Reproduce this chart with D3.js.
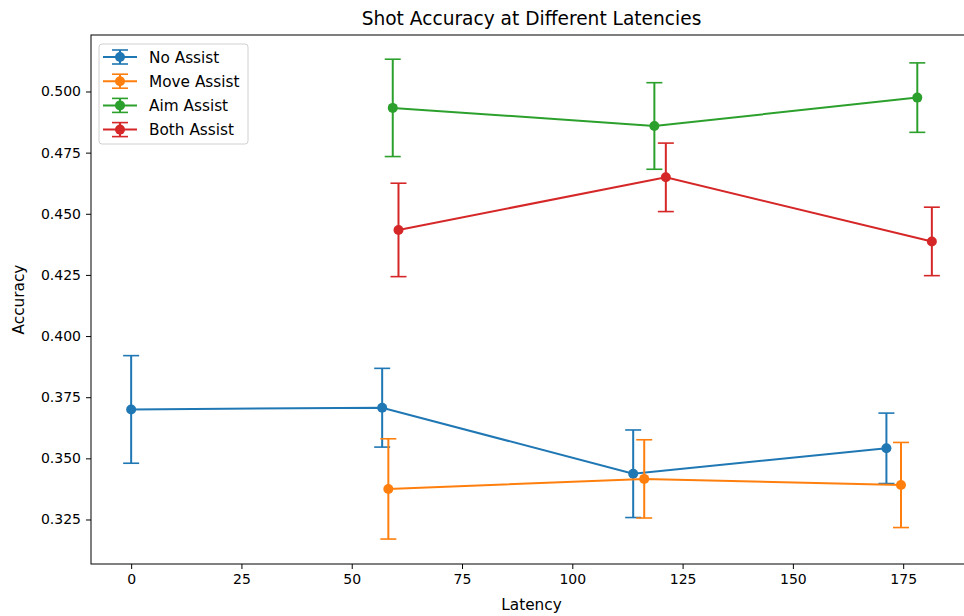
<!DOCTYPE html>
<html>
<head>
<meta charset="utf-8">
<script src="https://cdn.jsdelivr.net/npm/d3@7"></script>
<style>
  body { margin: 0; background: #fff; }
  text { font-family: "DejaVu Sans", sans-serif; }
</style>
</head>
<body>
<div id="chart"></div>
<script>
// Data
var seriesNames = ["No Assist", "Move Assist", "Aim Assist", "Both Assist"];
var seriesColors = ["#1f77b4", "#ff7f0e", "#2ca02c", "#d62728"];

var noAssistLatency = [0, 56.9, 113.8, 171.2];
var noAssistAcc = [0.3700, 0.3707, 0.3437, 0.3541];
var noAssistErr = [0.0220, 0.0161, 0.0179, 0.0144];

var moveAssistLatency = [58.3, 116.3, 174.5];
var moveAssistAcc = [0.3375, 0.3416, 0.3391];
var moveAssistErr = [0.0205, 0.0160, 0.0174];

var aimAssistLatency = [59.3, 118.6, 178.2];
var aimAssistAcc = [0.4933, 0.4859, 0.4975];
var aimAssistErr = [0.0199, 0.0177, 0.0142];

var bothAssistLatency = [60.6, 121.2, 181.5];
var bothAssistAcc = [0.4434, 0.4649, 0.4387];
var bothAssistErr = [0.0191, 0.0140, 0.0140];

var xTicks = [0, 25, 50, 75, 100, 125, 150, 175];
var yTicks = [0.325, 0.350, 0.375, 0.400, 0.425, 0.450, 0.475, 0.500];

// build rows per series
function rows(xs, ys, es) {
    return xs.map(function(x, i) { return {x: x, y: ys[i], e: es[i]}; });
}
var allSeries = [
    rows(noAssistLatency, noAssistAcc, noAssistErr),
    rows(moveAssistLatency, moveAssistAcc, moveAssistErr),
    rows(aimAssistLatency, aimAssistAcc, aimAssistErr),
    rows(bothAssistLatency, bothAssistAcc, bothAssistErr)
];

var svgWidth = 964,
    svgHeight = 616,
    plotLeft = 91,
    plotRight = 972,   // right spine falls just outside the picture
    plotTop = 35,
    plotBottom = 564,
    capHalf = 8,
    markerR = 5,
    labelSize = 15.3;

var svg = d3.select("#chart").append("svg")
    .attr("width", svgWidth)
    .attr("height", svgHeight);

var xScale = d3.scaleLinear().domain([-9.1, 190.6]).range([plotLeft, plotRight]);
var yScale = d3.scaleLinear().domain([0.3068, 0.5231]).range([plotBottom, plotTop]);

// axes
var xAxis = svg.append("g")
    .attr("transform", `translate(0, ${plotBottom})`)
    .call(d3.axisBottom(xScale).tickValues(xTicks).tickSize(5).tickPadding(5).tickFormat(d3.format("d")));
var yAxis = svg.append("g")
    .attr("transform", `translate(${plotLeft}, 0)`)
    .call(d3.axisLeft(yScale).tickValues(yTicks).tickSize(5).tickPadding(5).tickFormat(d3.format(".3f")));

[xAxis, yAxis].forEach(function(ax) {
    ax.select(".domain").remove();
    ax.selectAll("line").attr("stroke", "#000").attr("stroke-width", 1);
    ax.selectAll("text").attr("font-size", 14).attr("fill", "#000")
        .attr("font-family", "DejaVu Sans, sans-serif");
});

// frame
svg.append("rect")
    .attr("x", plotLeft).attr("y", plotTop)
    .attr("width", plotRight - plotLeft).attr("height", plotBottom - plotTop)
    .attr("fill", "none").attr("stroke", "#000").attr("stroke-width", 1);

// series: line, error bars, markers
var line = d3.line().x(function(d) { return xScale(d.x); }).y(function(d) { return yScale(d.y); });

allSeries.forEach(function(data, i) {
    var col = seriesColors[i];
    var g = svg.append("g");

    g.append("path")
        .datum(data)
        .attr("d", line)
        .attr("fill", "none")
        .attr("stroke", col)
        .attr("stroke-width", 2);

    var bars = g.selectAll(".bar").data(data).enter().append("g");
    bars.append("line")
        .attr("x1", function(d) { return xScale(d.x); })
        .attr("x2", function(d) { return xScale(d.x); })
        .attr("y1", function(d) { return yScale(d.y - d.e); })
        .attr("y2", function(d) { return yScale(d.y + d.e); })
        .attr("stroke", col).attr("stroke-width", 2);
    bars.append("line")
        .attr("x1", function(d) { return xScale(d.x) - capHalf; })
        .attr("x2", function(d) { return xScale(d.x) + capHalf; })
        .attr("y1", function(d) { return yScale(d.y + d.e); })
        .attr("y2", function(d) { return yScale(d.y + d.e); })
        .attr("stroke", col).attr("stroke-width", 1.6);
    bars.append("line")
        .attr("x1", function(d) { return xScale(d.x) - capHalf; })
        .attr("x2", function(d) { return xScale(d.x) + capHalf; })
        .attr("y1", function(d) { return yScale(d.y - d.e); })
        .attr("y2", function(d) { return yScale(d.y - d.e); })
        .attr("stroke", col).attr("stroke-width", 1.6);

    g.selectAll("circle").data(data).enter().append("circle")
        .attr("cx", function(d) { return xScale(d.x); })
        .attr("cy", function(d) { return yScale(d.y); })
        .attr("r", markerR)
        .attr("fill", col);
});

// legend
var legend = svg.append("g").attr("transform", "translate(99, 44)");
legend.append("rect")
    .attr("width", 149).attr("height", 100)
    .attr("rx", 3)
    .attr("fill", "#fff").attr("fill-opacity", 0.8)
    .attr("stroke", "#d0d0d0").attr("stroke-width", 1);

seriesNames.forEach(function(name, i) {
    var y = 13 + i * 24.2,
        col = seriesColors[i];
    var item = legend.append("g").attr("transform", `translate(0, ${y})`);
    item.append("line").attr("x1", 4).attr("x2", 38).attr("y1", 0).attr("y2", 0)
        .attr("stroke", col).attr("stroke-width", 2);
    item.append("line").attr("x1", 21).attr("x2", 21).attr("y1", -7).attr("y2", 7)
        .attr("stroke", col).attr("stroke-width", 2);
    item.append("line").attr("x1", 13).attr("x2", 29).attr("y1", -7).attr("y2", -7)
        .attr("stroke", col).attr("stroke-width", 1.6);
    item.append("line").attr("x1", 13).attr("x2", 29).attr("y1", 7).attr("y2", 7)
        .attr("stroke", col).attr("stroke-width", 1.6);
    item.append("circle").attr("cx", 21).attr("cy", 0).attr("r", markerR).attr("fill", col);
    item.append("text")
        .attr("x", 50).attr("y", 5.5)
        .attr("font-size", labelSize)
        .attr("fill", "#000")
        .text(name);
});

// title and axis labels
svg.append("text")
    .attr("x", (plotLeft + plotRight) / 2).attr("y", 25)
    .attr("text-anchor", "middle")
    .attr("font-size", 18.6)
    .text("Shot Accuracy at Different Latencies");

svg.append("text")
    .attr("x", (plotLeft + plotRight) / 2).attr("y", 610)
    .attr("text-anchor", "middle")
    .attr("font-size", labelSize)
    .text("Latency");

svg.append("text")
    .attr("transform", `translate(24, ${(plotTop + plotBottom) / 2}) rotate(-90)`)
    .attr("text-anchor", "middle")
    .attr("font-size", labelSize)
    .text("Accuracy");
</script>
</body>
</html>
